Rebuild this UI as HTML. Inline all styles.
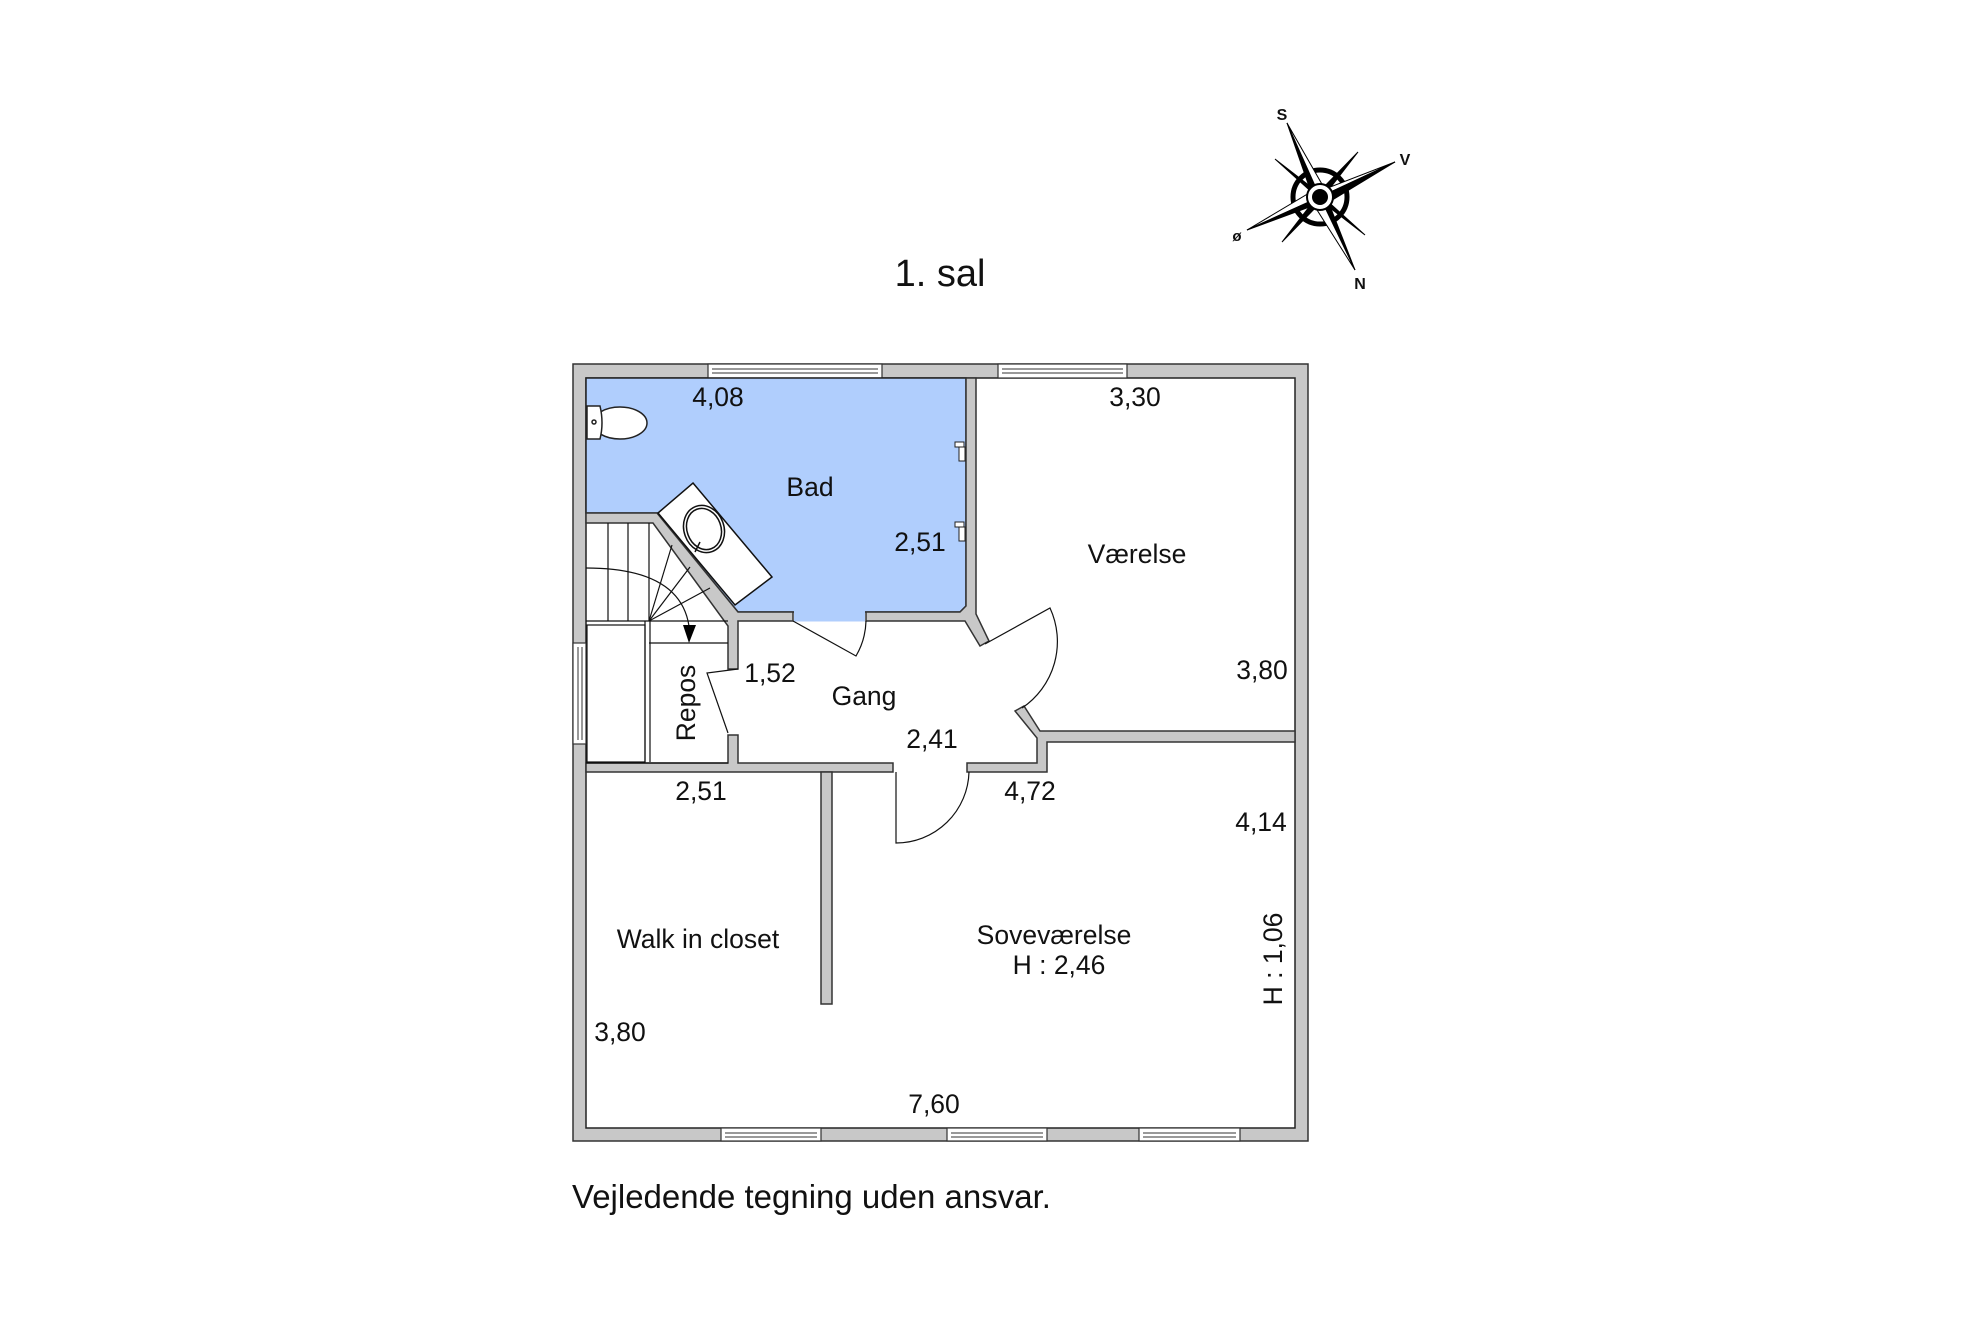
<!DOCTYPE html>
<html><head><meta charset="utf-8"><style>
html,body{margin:0;padding:0;background:#fff;}
svg{display:block;}
text{font-family:"Liberation Sans",Arial,sans-serif;fill:#111;}
</style></head><body>
<svg width="1984" height="1323" viewBox="0 0 1984 1323" xmlns="http://www.w3.org/2000/svg">
<rect width="1984" height="1323" fill="#fff"/>
<text x="940" y="286" font-size="38" text-anchor="middle">1. sal</text>

<!-- compass -->
<g transform="translate(1320,197)">
  <circle r="27" fill="none" stroke="#000" stroke-width="5"/>
  <g stroke="#000" stroke-width="1">
    <polygon points="-2,-4 38,-45 4,-1" fill="#000"/>
    <polygon points="4,1 45,38 1,4" fill="#000"/>
    <polygon points="2,4 -38,45 -4,1" fill="#000"/>
    <polygon points="-4,-1 -45,-38 -1,-4" fill="#000"/>
  </g>
  <polygon points="0,0 -33,-74 -9,-5" fill="#000" stroke="#000"/>
  <polygon points="0,0 -33,-74 7,-4" fill="#fff" stroke="#000"/>
  <polygon points="0,0 75,-35 5,-8" fill="#fff" stroke="#000"/>
  <polygon points="0,0 75,-35 4,8" fill="#000" stroke="#000"/>
  <polygon points="0,0 -73,33 -4,-8" fill="#fff" stroke="#000"/>
  <polygon points="0,0 -73,33 -5,8" fill="#000" stroke="#000"/>
  <polygon points="0,0 35,73 8,4" fill="#000" stroke="#000"/>
  <polygon points="0,0 35,73 -8,5" fill="#fff" stroke="#000"/>
  <circle r="13" fill="#fff" stroke="#000" stroke-width="2"/>
  <circle r="8" fill="#000"/>
</g>
<text x="1282" y="120" font-size="16" font-weight="bold" text-anchor="middle">S</text>
<text x="1405" y="165" font-size="16" font-weight="bold" text-anchor="middle">V</text>
<text x="1237" y="241" font-size="15" font-weight="bold" text-anchor="middle">ø</text>
<text x="1360" y="289" font-size="16" font-weight="bold" text-anchor="middle">N</text>

<!-- outer walls -->
<rect x="573" y="364" width="735" height="777" fill="#c8c8c8" stroke="#333" stroke-width="1.5"/>
<rect x="586" y="378" width="709" height="750" fill="#fff" stroke="#222" stroke-width="1.5"/>

<!-- windows -->
<g fill="#fff" stroke="#333" stroke-width="1.2">
  <rect x="708" y="364" width="174" height="14"/>
  <rect x="998" y="364" width="129" height="14"/>
  <rect x="721" y="1128" width="100" height="13"/>
  <rect x="947" y="1128" width="100" height="13"/>
  <rect x="1139" y="1128" width="101" height="13"/>
  <rect x="573" y="643" width="13" height="101"/>
</g>
<g stroke="#333" stroke-width="1">
  <line x1="712" y1="369" x2="878" y2="369"/><line x1="712" y1="373" x2="878" y2="373"/>
  <line x1="1002" y1="369" x2="1123" y2="369"/><line x1="1002" y1="373" x2="1123" y2="373"/>
  <line x1="725" y1="1133" x2="817" y2="1133"/><line x1="725" y1="1137" x2="817" y2="1137"/>
  <line x1="951" y1="1133" x2="1043" y2="1133"/><line x1="951" y1="1137" x2="1043" y2="1137"/>
  <line x1="1143" y1="1133" x2="1236" y2="1133"/><line x1="1143" y1="1137" x2="1236" y2="1137"/>
  <line x1="578" y1="647" x2="578" y2="740"/><line x1="582" y1="647" x2="582" y2="740"/>
</g>

<!-- bath floor -->
<polygon points="586,378 966,378 966,606 960,612 738,612 657,513 586,513" fill="#b0cefd" stroke="#222" stroke-width="1.5"/>

<!-- interior walls -->
<g fill="#c8c8c8" stroke="#333" stroke-width="1.5" stroke-linejoin="miter">
  <polygon points="966,378 976,378 976,614 989,641 980,646 965,621 866,621 866,612 960,612 966,606"/>
  <polygon points="586,513 657,513 738,612 793,612 793,621 738,621 738,669 728,669 728,626 653,523 586,523"/>
  <polygon points="728,735 738,735 738,763 893,763 893,772 586,772 586,763 728,763"/>
  <polygon points="821,772 832,772 832,1004 821,1004"/>
  <polygon points="1015,711 1024,706 1040,731 1295,731 1295,742 1047,742 1047,772 967,772 967,763 1037,763 1037,738"/>
</g>
<rect x="794" y="611" width="71" height="10" fill="#b0cefd"/>
<line x1="794" y1="621" x2="865" y2="621" stroke="#b0cefd" stroke-width="1"/>

<!-- toilet -->
<g stroke="#222" stroke-width="1.5" fill="#fff">
  <ellipse cx="620" cy="423" rx="27" ry="16"/>
  <path d="M587,406 L600,406 Q604,423 600,439 L587,439 Z"/>
  <circle cx="594" cy="422" r="2"/>
</g>

<!-- sink -->
<g stroke="#111" stroke-width="1.5" fill="#fff">
  <polygon points="693,483 772,577 735,605 658,513"/>
  <ellipse cx="704" cy="529" rx="20" ry="24" transform="rotate(-20 704 529)"/>
  <ellipse cx="704" cy="529" rx="17" ry="21" transform="rotate(-20 704 529)" fill="none"/>
  <line x1="700" y1="542" x2="695" y2="552"/>
</g>

<!-- taps -->
<g stroke="#222" stroke-width="1" fill="#fff">
  <rect x="959" y="447" width="6" height="14"/><rect x="955" y="442" width="9" height="5"/>
  <rect x="959" y="527" width="6" height="14"/><rect x="955" y="522" width="9" height="5"/>
</g>

<!-- stairs -->
<g stroke="#111" stroke-width="1.2" fill="none">
  <line x1="608" y1="523" x2="608" y2="621"/>
  <line x1="628" y1="523" x2="628" y2="621"/>
  <line x1="649" y1="523" x2="649" y2="621"/>
  <line x1="586" y1="621" x2="728" y2="621"/>
  <line x1="649" y1="621" x2="672" y2="545"/>
  <line x1="649" y1="621" x2="690" y2="567"/>
  <line x1="649" y1="621" x2="710" y2="588"/>
  <line x1="649" y1="643" x2="728" y2="643"/>
  <rect x="587" y="625" width="58" height="137"/>
  <line x1="645" y1="621" x2="645" y2="762"/>
  <line x1="650" y1="621" x2="650" y2="762"/>
  <line x1="586" y1="763" x2="728" y2="763"/>
  <path d="M586,568 Q680,568 689,626"/>
</g>
<polygon points="683,625 696,625 689,643" fill="#000"/>

<!-- doors -->
<g stroke="#111" stroke-width="1.2" fill="none">
  <path d="M793,621 L856,656 A73,73 0 0 0 866,621"/>
  <path d="M985,644 L1050,608 A80,80 0 0 1 1022,708"/>
  <path d="M738,669 L707,673 L728,733"/>
  <path d="M896,772 L896,843 A73,73 0 0 0 969,772"/>
</g>

<!-- labels -->
<g font-size="26.5" text-anchor="middle">
  <text x="718" y="406">4,08</text>
  <text x="810" y="496">Bad</text>
  <text x="920" y="551">2,51</text>
  <text x="1135" y="406">3,30</text>
  <text x="1137" y="563">Værelse</text>
  <text x="1262" y="679">3,80</text>
  <text x="770" y="682">1,52</text>
  <text x="864" y="705">Gang</text>
  <text x="932" y="748">2,41</text>
  <text x="701" y="800">2,51</text>
  <text x="1030" y="800">4,72</text>
  <text x="1261" y="831">4,14</text>
  <text x="698" y="948">Walk in closet</text>
  <text x="1054" y="944">Soveværelse</text>
  <text x="1059" y="974">H : 2,46</text>
  <text x="620" y="1041">3,80</text>
  <text x="934" y="1113">7,60</text>
  <text transform="translate(695,703) rotate(-90)">Repos</text>
  <text transform="translate(1282,959) rotate(-90)">H : 1,06</text>
</g>
<text x="572" y="1208" font-size="33">Vejledende tegning uden ansvar.</text>
</svg>
</body></html>
